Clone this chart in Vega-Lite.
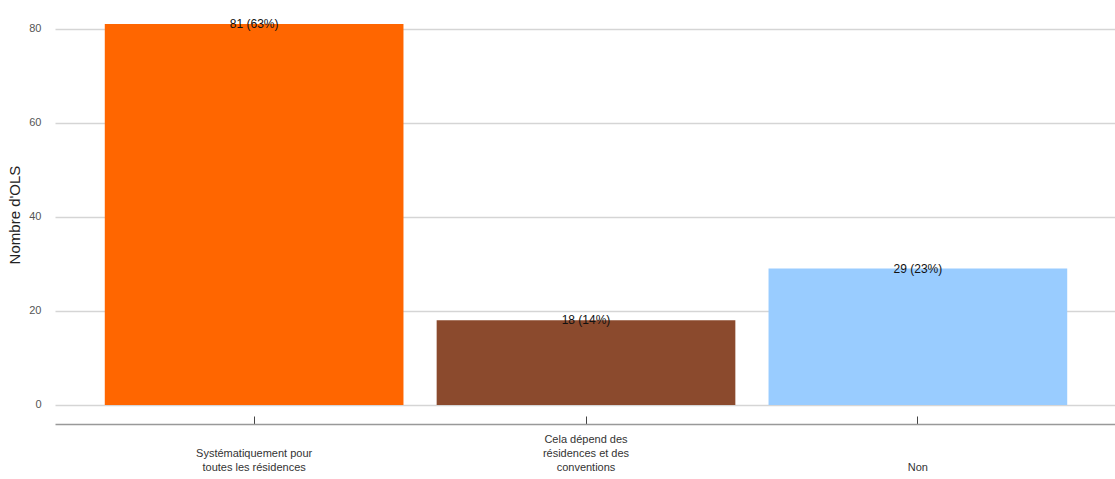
{
  "$schema": "https://vega.github.io/schema/vega-lite/v6.json",
  "width": 1062,
  "height": 419,
  "autosize": {"type": "none"},
  "padding": {"left": 55, "top": 5, "right": 0, "bottom": 55},
  "background": "white",
  "config": {"view": {"stroke": null}, "font": "Liberation Sans"},
  "data": {"values": [
    {"cat": "Systématiquement pour toutes les résidences", "n": 81, "lab": "81 (63%)", "col": "#FF6600"},
    {"cat": "Cela dépend des résidences et des conventions", "n": 18, "lab": "18 (14%)", "col": "#8B4A2D"},
    {"cat": "Non", "n": 29, "lab": "29 (23%)", "col": "#99CCFF"}
  ]},
  "encoding": {
    "x": {"field": "cat", "type": "nominal", "sort": null,
      "scale": {"paddingInner": 0.1, "paddingOuter": 0.15},
      "axis": {"title": null, "labelAngle": 0, "domainColor": "#999999", "domainWidth": 1.5, "tickColor": "#444444", "tickSize": -8,
        "labelExpr": "datum.value == 'Systématiquement pour toutes les résidences' ? ['\u00a0', 'Systématiquement pour', 'toutes les résidences'] : datum.value == 'Cela dépend des résidences et des conventions' ? ['Cela dépend des', 'résidences et des', 'conventions'] : ['\u200b', '\u200b', 'Non']",
        "labelBaseline": "top", "labelPadding": 17, "labelFontSize": 11, "labelColor": "#333333", "labelLineHeight": 14}
    }
  },
  "layer": [
    {
      "mark": {"type": "bar"},
      "encoding": {
        "y": {"field": "n", "type": "quantitative",
          "scale": {"domain": [-4.05, 85.05], "nice": false, "zero": false},
          "axis": {"title": "Nombre d'OLS", "titleFontSize": 15, "titleFontWeight": "normal", "titleColor": "#222222", "titlePadding": 6,
            "values": [0, 20, 40, 60, 80], "grid": true, "gridColor": "#D5D5D5", "gridWidth": 1.5, "domain": false, "ticks": false,
            "labelPadding": 14, "labelFontSize": 11, "labelColor": "#555555"}
        },
        "y2": {"datum": 0},
        "color": {"field": "col", "type": "nominal", "scale": null, "legend": null}
      }
    },
    {
      "mark": {"type": "text", "baseline": "middle", "fontSize": 12, "color": "#111111"},
      "encoding": {
        "y": {"field": "n", "type": "quantitative"},
        "text": {"field": "lab"}
      }
    }
  ]
}
